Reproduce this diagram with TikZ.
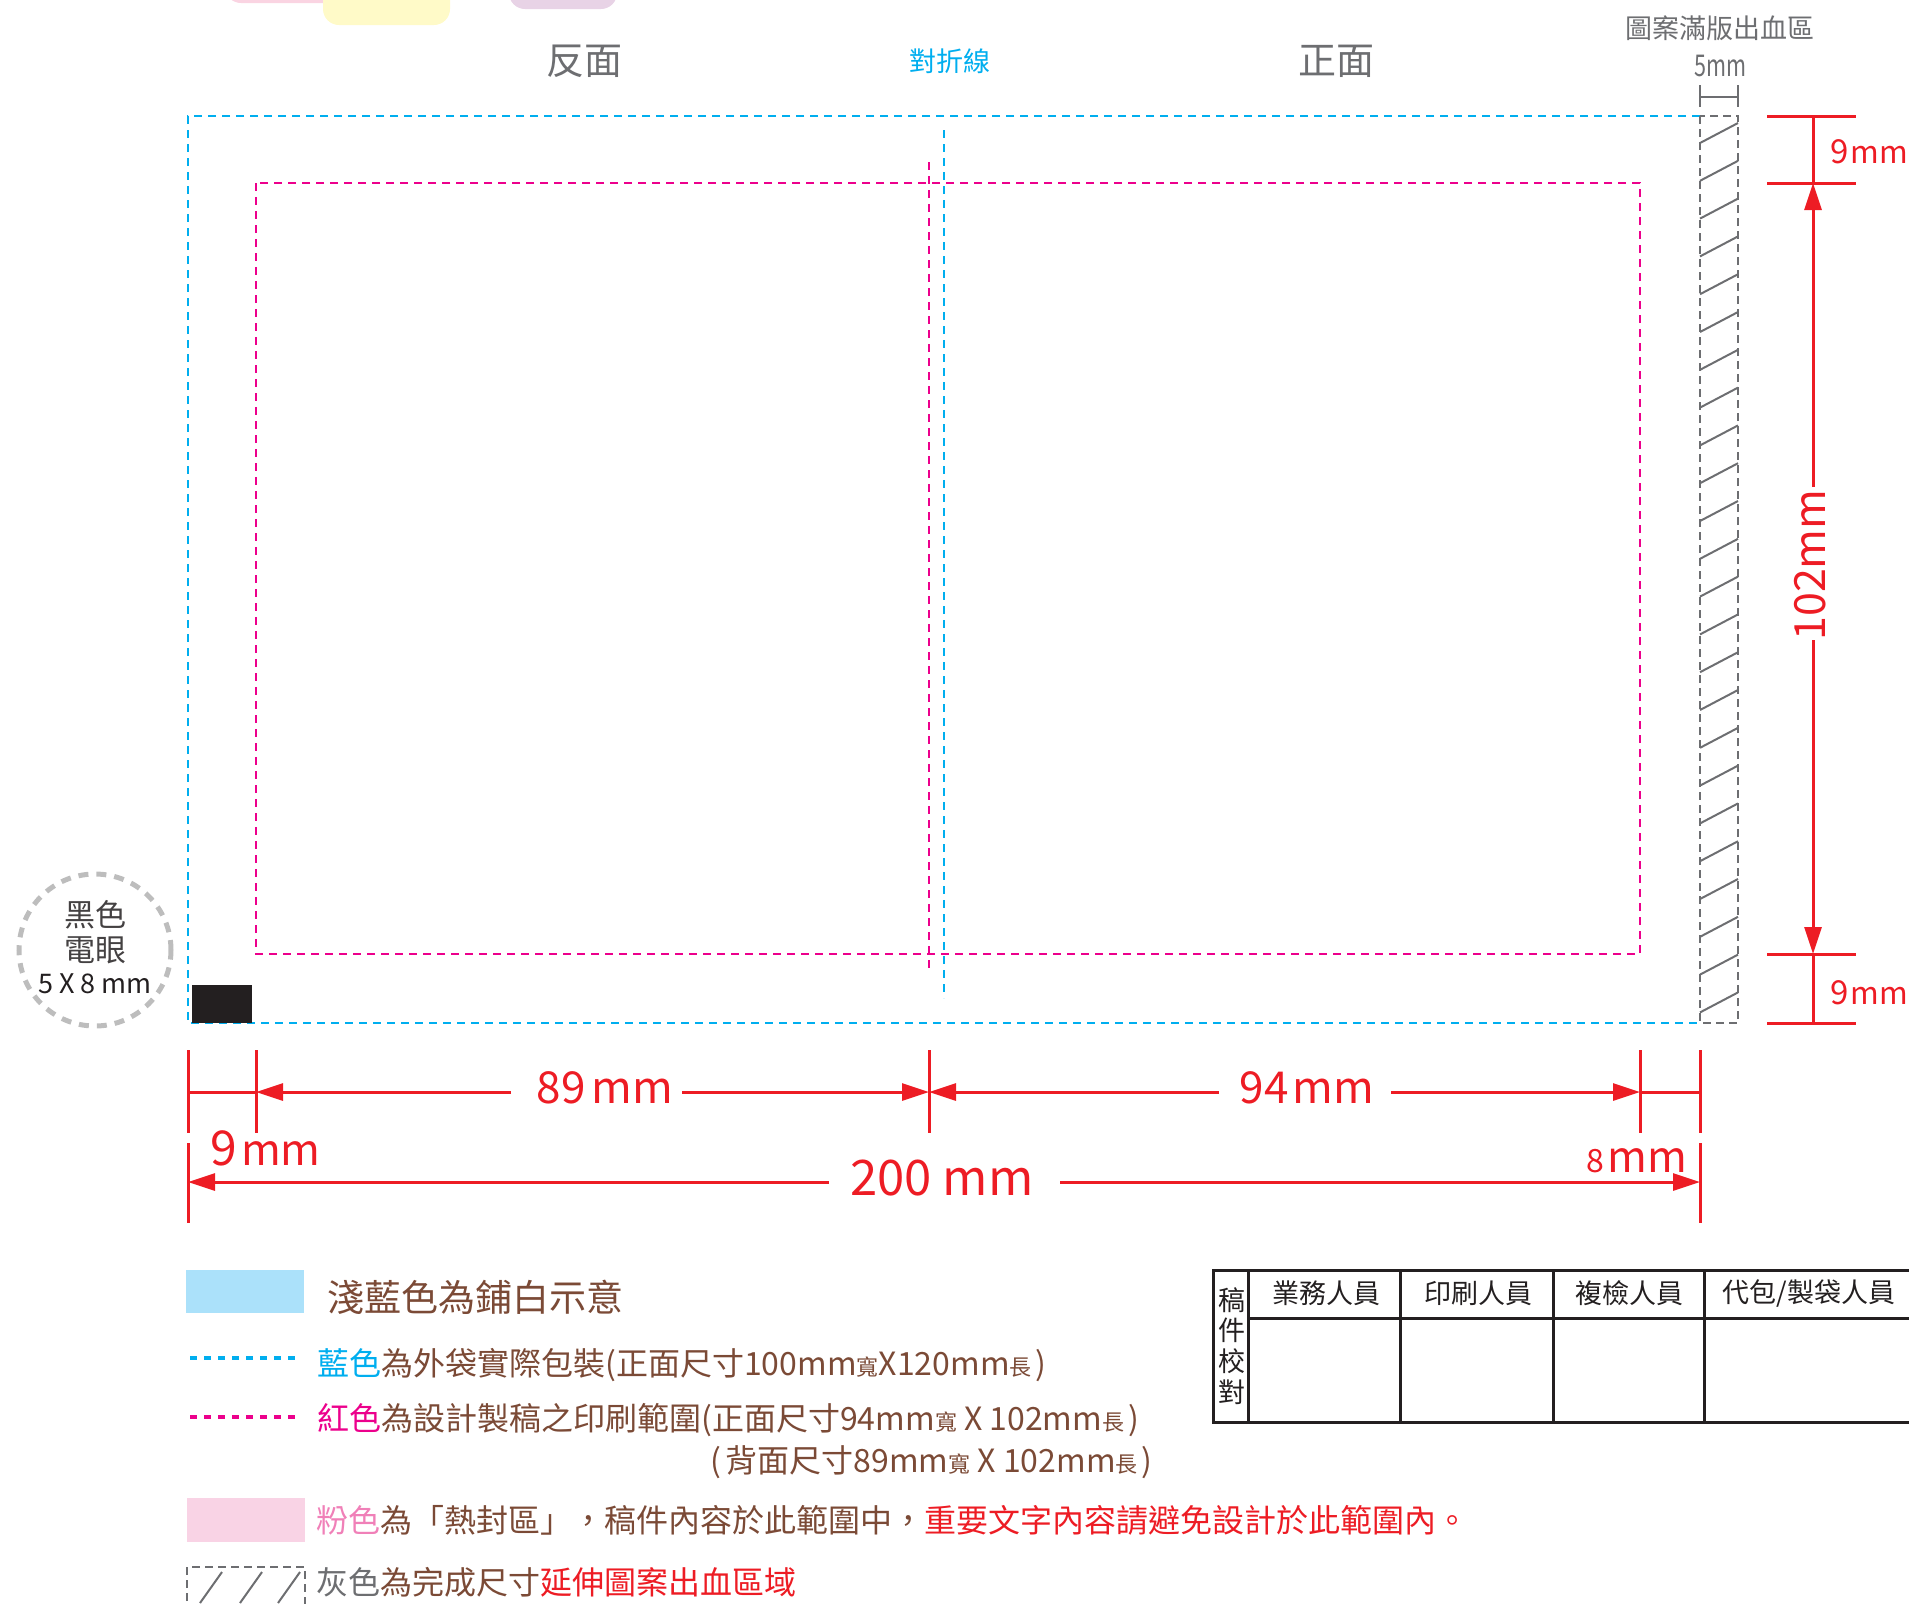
\documentclass[tikz,border=0pt]{standalone}
\usepackage{fontspec}
\setmainfont{Noto Sans CJK TC}
\usetikzlibrary{arrows.meta}
\definecolor{cblue}{HTML}{00AEEF}
\definecolor{cmag}{HTML}{EC008C}
\definecolor{cred}{HTML}{ED1C24}
\definecolor{cbrown}{HTML}{7B4A36}
\definecolor{cgray}{HTML}{6D6E71}
\definecolor{cdark}{HTML}{231F20}
\definecolor{lblue}{HTML}{ABE1FA}
\definecolor{lpink}{HTML}{F9D3E5}
\definecolor{cpinktxt}{HTML}{F080B8}
\definecolor{cyel}{HTML}{FFFAC8}
\definecolor{cpur}{HTML}{E8D3E6}
\definecolor{cblob}{HTML}{FAD4E2}
\definecolor{ccirc}{HTML}{BDBDBD}
\newcommand\fsz[1]{\fontsize{#1pt}{#1pt}\selectfont}
\tikzset{
  bl/.style={cblue, line width=1pt, dash pattern=on 4pt off 3pt},
  mg/.style={cmag, line width=1pt, dash pattern=on 4pt off 3pt},
  gy/.style={cgray, line width=1.2pt, dash pattern=on 4pt off 2.5pt},
  hat/.style={cgray, line width=1pt},
  rd/.style={cred, line width=1.5pt},
  rda/.style={rd, -{Triangle[length=13.5pt,width=8.5pt]}},
  rlab/.style={text=cred, inner sep=0pt},
  glab/.style={text=cgray, inner sep=0pt},
  leg/.style={text=cbrown, inner sep=0pt, anchor=west},
  dotl/.style={line width=2pt, dash pattern=on 3.5pt off 3.5pt},
  tab/.style={cdark, line width=1.5pt},
  ttxt/.style={text=cdark, inner sep=0pt, font=\fsz{13.5}},
}
\begin{document}
\begin{tikzpicture}[x=0.5pt,y=-0.5pt]
\useasboundingbox (0,0) rectangle (1909,1603);
\begin{scope}
\clip (0,0) rectangle (1909,1603);
% top blobs
\fill[cblob, rounded corners=8pt] (225,-40) rectangle (365,3);
\fill[cyel, rounded corners=8pt] (323,-40) rectangle (450,25);
\fill[cpur, rounded corners=8pt] (509,-40) rectangle (617,9);

% titles
\node[glab, font=\fsz{19}] (back) at (584,61) {反面};
\node[inner sep=0pt, text=cblue, font=\fsz{13.5}] (fold) at (950,61) {對折線};
\node[glab, font=\fsz{19}] (front) at (1336,61) {正面};
\node[glab, font=\fsz{13.5}] (bleedt) at (1720,28) {圖案滿版出血區};
\node[glab, font=\fsz{15}] (bleedmm) at (1720,66) {\scalebox{0.72}[1]{5mm}};

% 5mm dim
\coordinate (b5l) at (1700,97);
\coordinate (b5r) at (1738,97);
\draw[cgray, line width=1.2pt] (b5l) -- (b5r);
\draw[cgray, line width=1.2pt] (1700,85) -- (1700,107);
\draw[cgray, line width=1.2pt] (1738,85) -- (1738,107);

% blue outer
\coordinate (B1) at (188,116);
\coordinate (B2) at (1700,116);
\coordinate (B3) at (1700,1023);
\coordinate (B4) at (188,1023);
\draw[bl] (B2) -- (B1) -- (B4) -- (B3);
\draw[bl] (944,130) -- (944,998);

% magenta print area
\draw[mg] (256,183) rectangle (1640,954);
\draw[mg] (929,162) -- (929,970);

% black eye mark
\fill[cdark] (192,985) rectangle (252,1023);

% hatched bleed strip
\foreach \i in {0,...,23}{
  \draw[hat] (1700,{143+37.8*\i}) -- (1738,{123+37.8*\i});
}
\draw[gy] (1700,116) rectangle (1738,1023);

% circle label
\draw[ccirc, line width=2.5pt, dash pattern=on 5pt off 4pt] (95,950) circle[radius=38pt];
\node[inner sep=0pt, text=cdark!85, font=\fsz{15.5}] (c1) at (95,915) {黑色};
\node[inner sep=0pt, text=cdark!85, font=\fsz{15.5}] (c2) at (95,950) {電眼};
\node[inner sep=0pt, text=cdark, font=\fsz{13.5}] (c3) at (95,984) {5 X 8 mm};

% right vertical dims
\draw[rd] (1767,116) -- (1856,116);
\draw[rd] (1767,183) -- (1856,183);
\draw[rd] (1767,954) -- (1856,954);
\draw[rd] (1767,1023) -- (1856,1023);
\draw[rd] (1813,116) -- (1813,183);
\draw[rd] (1813,954) -- (1813,1023);
\node[rlab, rotate=90, font=\fsz{21.5}] (h102) at (1810,565) {102mm};
\coordinate (v1) at (1813,487);
\coordinate (v2) at (1813,640);
\draw[rda] (v1) -- (1813,183);
\draw[rda] (v2) -- (1813,954);
\node[rlab, anchor=base west] (r9a) at (1830,163) {\fsz{16.5}9\kern1pt\fsz{15.5}mm};
\node[rlab, anchor=base west] (r9b) at (1830,1004) {\fsz{16.5}9\kern1pt\fsz{15.5}mm};

% bottom dims row 1
\foreach \x in {188,256,929,1640,1700}{
  \draw[rd] (\x,1050) -- (\x,1133);
}
\node[rlab, font=\fsz{22}] (d89) at (605,1088) {89\kern3pt mm};
\node[rlab, font=\fsz{22}] (d94) at (1307,1088) {94\kern2pt mm};
\coordinate (g1) at (511,1092);
\coordinate (g2) at (682,1092);
\coordinate (g3) at (1219,1092);
\coordinate (g4) at (1391,1092);
\draw[rd] (188,1092) -- (256,1092);
\draw[rd] (1640,1092) -- (1700,1092);
\draw[rda] (g1) -- (256,1092);
\draw[rda] (g2) -- (929,1092);
\draw[rda] (g3) -- (929,1092);
\draw[rda] (g4) -- (1640,1092);

% bottom dims row 2
\draw[rd] (188,1143) -- (188,1223);
\draw[rd] (1700,1143) -- (1700,1223);
\node[rlab, font=\fsz{24.5}] (d200) at (942,1178) {200 mm};
\coordinate (g5) at (829,1182);
\coordinate (g6) at (1060,1182);
\draw[rda] (g5) -- (188,1182);
\draw[rda] (g6) -- (1700,1182);
\node[rlab, anchor=base west] (d9) at (210,1165) {\fsz{24}9\kern2pt\fsz{21.5}mm};
\node[rlab, anchor=base east] (d8) at (1688,1172) {\fsz{16}8\kern2pt\fsz{21.5}mm};

% legend
\fill[lblue] (186,1270) rectangle (304,1313);
\node[leg, font=\fsz{18.5}] (L1) at (327,1297) {淺藍色為鋪白示意};

\coordinate (lb1) at (190,1358);
\coordinate (lb2) at (301,1358);
\draw[cblue, dotl] (lb1) -- (lb2);
\node[leg, font=\fsz{16}] (L2) at (317,1365) {{\color{cblue}藍色}為外袋實際包裝(正面尺寸100mm{\fsz{11}寬}X120mm{\fsz{11}長}\kern2pt)};

\coordinate (lm1) at (190,1417);
\coordinate (lm2) at (301,1417);
\draw[cmag, dotl] (lm1) -- (lm2);
\node[leg, font=\fsz{16}] (L3) at (317,1420) {{\color{cmag}紅色}為設計製稿之印刷範圍(正面尺寸94mm{\fsz{11}寬} X 102mm{\fsz{11}長}\kern2pt)};
\node[leg, anchor=east, font=\fsz{16}] (L3b) at (1153,1462) {(\kern2pt背面尺寸89mm{\fsz{11}寬} X 102mm{\fsz{11}長}\kern2pt)};

\fill[lpink] (187,1498) rectangle (305,1542);
\node[leg, font=\fsz{16}] (L4) at (316,1520) {{\color{cpinktxt}粉色}為「熱封區」，稿件內容於此範圍中，{\color{cred}重要文字內容請避免設計於此範圍內。}};

\draw[gy] (187,1640) -- (187,1567) -- (305,1567) -- (305,1640);
\draw[hat] (200,1603) -- (222,1572);
\draw[hat] (240,1603) -- (262,1572);
\draw[hat] (278,1603) -- (300,1572);
\node[leg, font=\fsz{16}] (L5) at (316,1582) {{\color{cgray}灰色}為完成尺寸{\color{cred}延伸圖案出血區域}};

% table
\draw[tab] (1930,1270) -- (1213,1270) -- (1213,1422) -- (1930,1422);
\draw[tab] (1248,1318) -- (1930,1318);
\foreach \x in {1248,1400,1553,1704}{
  \draw[tab] (\x,1270) -- (\x,1422);
}
\node[ttxt] (t0) at (1232,1346) {\shortstack{稿\\件\\校\\對}};
\node[ttxt] (t1) at (1326,1293) {業務人員};
\node[ttxt] (t2) at (1478,1293) {印刷人員};
\node[ttxt] (t3) at (1629,1293) {複檢人員};
\node[ttxt] (t4) at (1809,1293) {代包/製袋人員};
\end{scope}
\end{tikzpicture}
\end{document}
